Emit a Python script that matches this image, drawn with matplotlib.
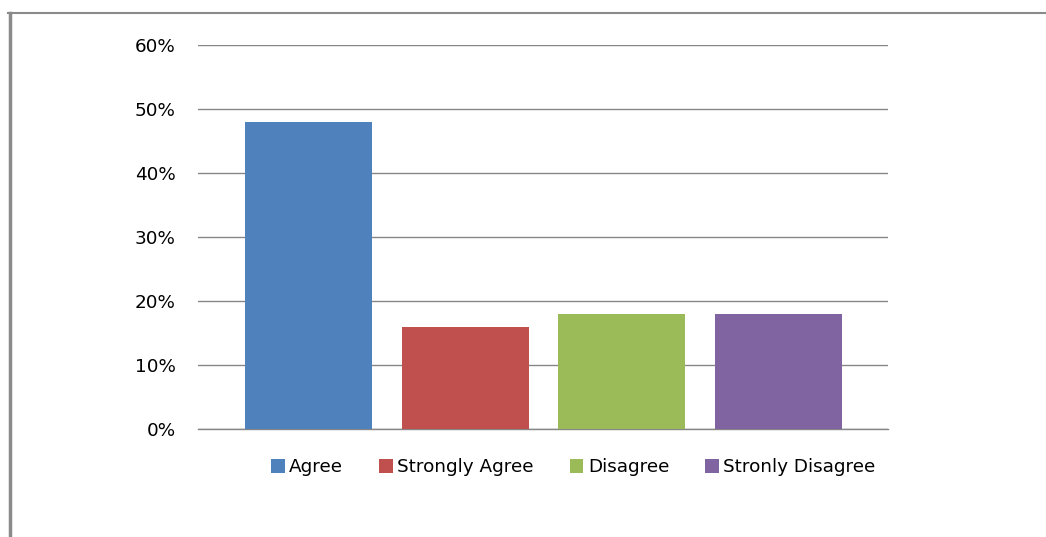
import matplotlib
matplotlib.use("Agg")
import matplotlib.pyplot as plt
from matplotlib.lines import Line2D
from matplotlib.patches import Patch
from matplotlib.ticker import FuncFormatter

plt.rcParams["font.family"] = ["DejaVu Sans"]

# Survey responses, share of respondents
categories = ["Agree", "Strongly Agree", "Disagree", "Stronly Disagree"]
shares = [0.48, 0.16, 0.18, 0.18]
colors = ["#4F81BD", "#C0504D", "#9BBB59", "#8064A2"]
y_ticks = [0.0, 0.1, 0.2, 0.3, 0.4, 0.5, 0.6]

grid_gray = "#868686"

fig = plt.figure(figsize=(10.46, 5.37), dpi=100)
ax = fig.add_axes([0.1893, 0.2011, 0.6600, 0.7151])

x = list(range(len(categories)))
ax.bar(x, shares, width=0.81, color=colors, zorder=3)

ax.set_xlim(-0.705, 3.70)
ax.set_ylim(0, 0.6)
ax.set_yticks(y_ticks)
ax.yaxis.set_major_formatter(FuncFormatter(lambda v, _: f"{v * 100:.0f}%"))
ax.set_xticks([])
ax.tick_params(axis="y", length=0, pad=16, labelsize=13.2, labelcolor="#000000")
ax.grid(axis="y", color=grid_gray, linewidth=1.0, zorder=0)
for side in ("top", "right", "left"):
    ax.spines[side].set_visible(False)
ax.spines["bottom"].set_color(grid_gray)
ax.spines["bottom"].set_linewidth(1.0)

handles = [Patch(facecolor=c, edgecolor="none") for c in colors]
fig.legend(handles, categories, loc="center", bbox_to_anchor=(0.548, 0.130),
           ncol=4, frameon=False, fontsize=13.2, handlelength=0.75,
           handleheight=0.75, handletextpad=0.25, columnspacing=1.95)

# outer frame: top and left edges only
fig.add_artist(Line2D([8 / 1046, 1.0], [1 - 13 / 537] * 2,
                      transform=fig.transFigure, color="#8a8a8a", linewidth=1.5))
fig.add_artist(Line2D([9.5 / 1046] * 2, [0.0, 1 - 13 / 537],
                      transform=fig.transFigure, color="#8a8a8a", linewidth=2.5))

fig.savefig("out.png", dpi=100, facecolor="white")
